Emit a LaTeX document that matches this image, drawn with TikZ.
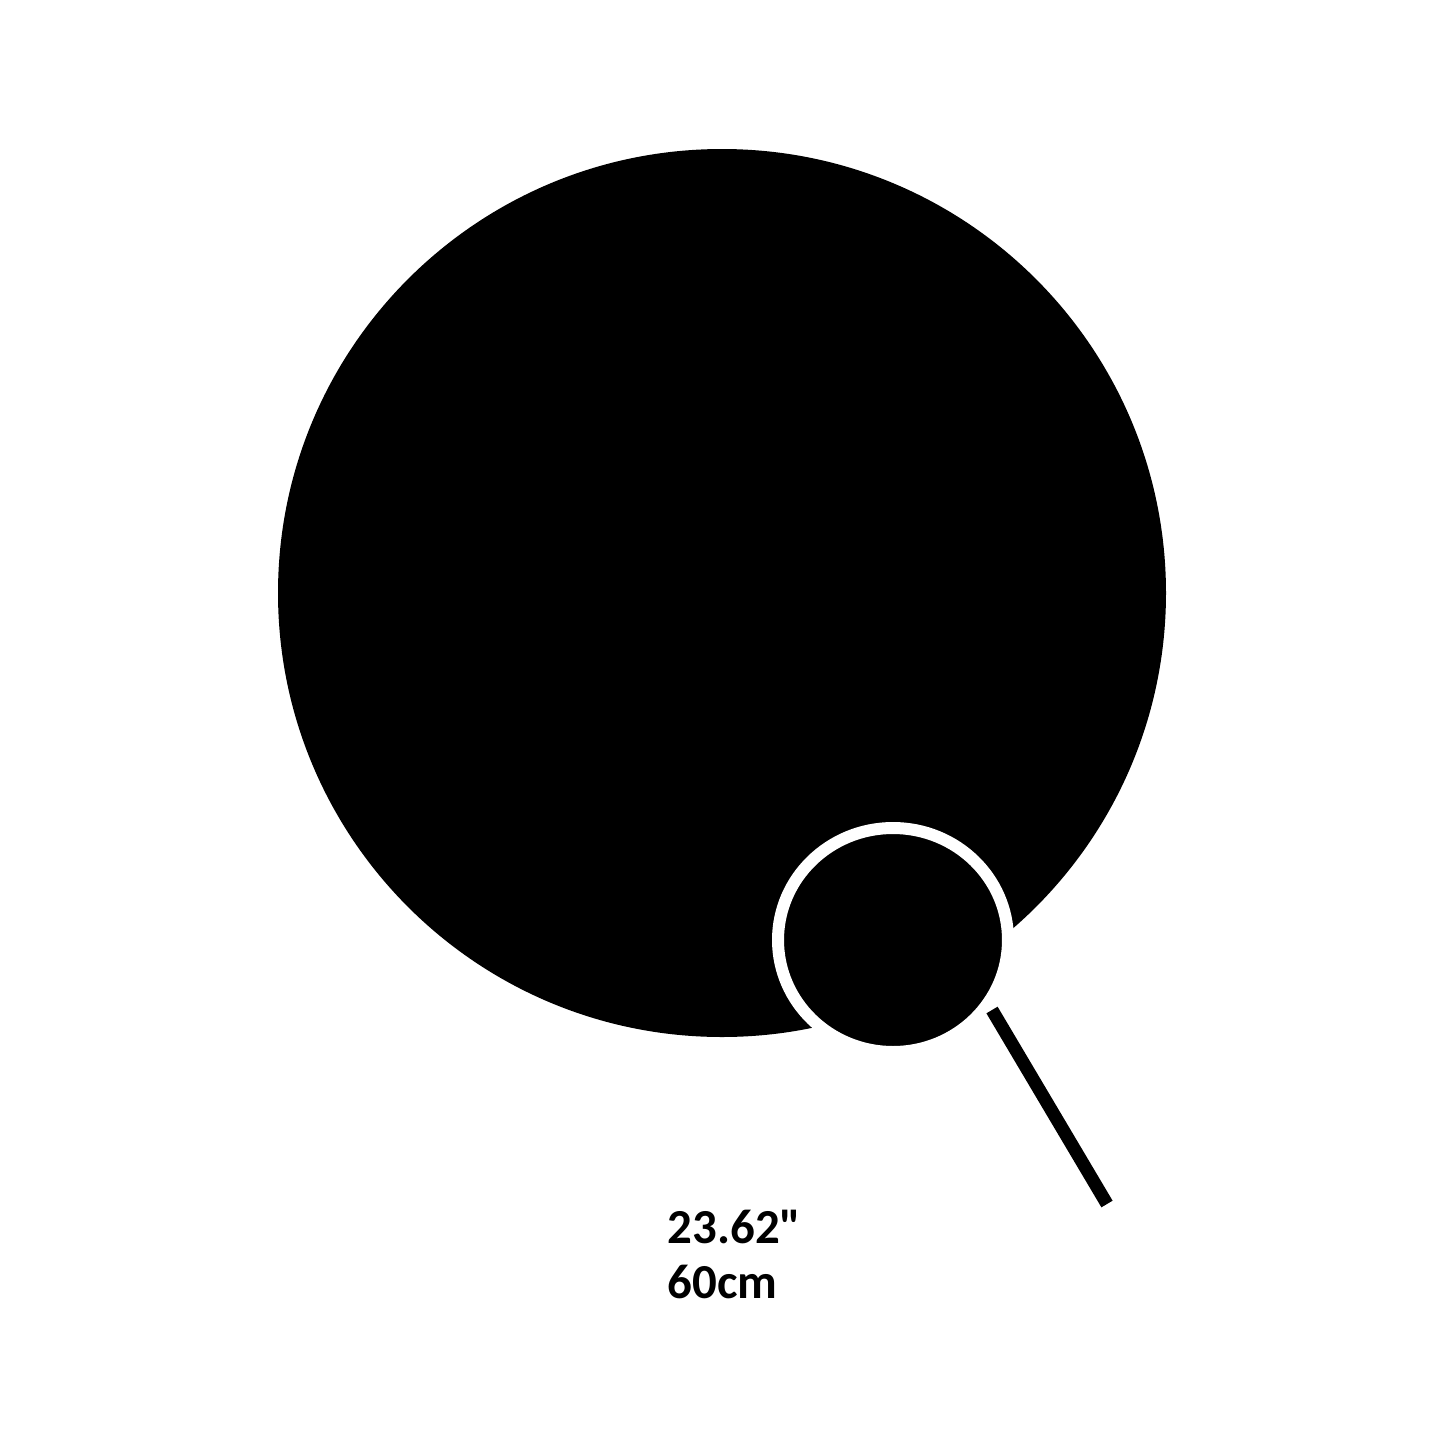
\documentclass[tikz,border=0pt]{standalone}
\usepackage{fontspec}
\newfontfamily\labelfont{Carlito}
\usepackage{tikz}

\begin{document}
\begin{tikzpicture}[x=0.01cm, y=-0.01cm,
			ring/.style={fill=black, draw=white, line width=0.12cm},
			handle/.style={draw=black, line width=0.13cm},
			size/.style={anchor=base west, inner sep=0pt, font=\labelfont\bfseries\fontsize{13.9}{15.6}\selectfont}]
			\useasboundingbox (0,0) rectangle (1445,1445);
			\fill[white] (0,0) rectangle (1445,1445);
			% big disc
			\coordinate (big) at (722,593);
			\fill[black] (big) circle [x radius=444, y radius=-444];
			% magnifier
			\coordinate (lens) at (893,940);
			\draw[ring] (lens) ellipse [x radius=115, y radius=-112];
			\coordinate (grip a) at (992,1010);
			\coordinate (grip b) at (1107,1204);
			\draw[handle] (grip a) -- (grip b);
			% size labels
			\node[size] (inch) at (667,1243) {23.62"};
			\node[size] (metric) at (667,1298) {60cm};
\end{tikzpicture}
\end{document}
